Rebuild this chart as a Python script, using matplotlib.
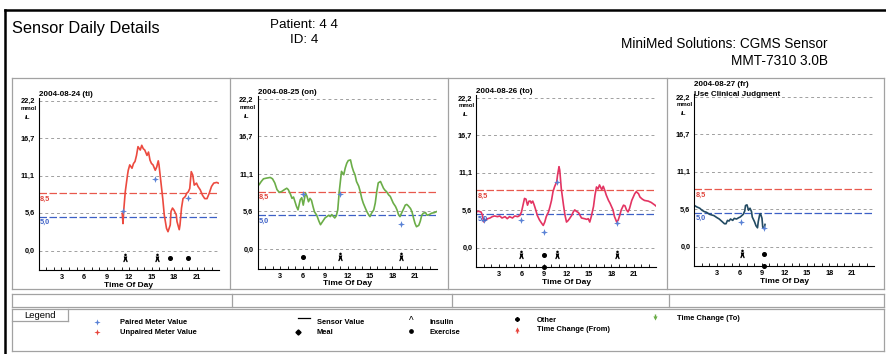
import matplotlib
matplotlib.use("Agg")
import matplotlib.pyplot as plt
from matplotlib.path import Path
from matplotlib.lines import Line2D
import numpy as np

plt.rcParams['font.family'] = ['Liberation Sans', 'DejaVu Sans']

# ---------------- data ----------------
day_titles = ["2004-08-24 (ti)", "2004-08-25 (on)", "2004-08-26 (to)", "2004-08-27 (fr)"]
ytick_values = [0.0, 5.6, 11.1, 16.7, 22.2]
ytick_labels = ["0,0", "5,6", "11,1", "16,7", "22,2"]
xtick_values = [3, 6, 9, 12, 15, 18, 21]
high_limit = 8.5
low_limit = 5.0

d1_hours = [11.1, 11.2, 11.3, 11.5, 11.8, 11.9, 12.1, 12.4, 12.6, 12.8, 13.0, 13.2, 13.5, 13.7, 13.9, 14.1,
            14.4, 14.6, 14.8, 15.0, 15.2, 15.5, 15.7, 15.9, 16.0, 16.2, 16.5, 16.7, 17.0, 17.2, 17.5, 17.6,
            17.8, 18.0, 18.3, 18.4, 18.7, 18.8, 19.0, 19.2, 19.5, 19.7, 19.9, 20.1, 20.3, 20.5, 20.7, 21.0,
            21.2, 21.5, 21.8, 22.1, 22.4, 22.7, 23.0, 23.3, 23.7, 23.9]
d1_glucose = [5.5, 4.0, 6.0, 8.7, 11.2, 11.9, 12.7, 12.2, 12.9, 13.2, 14.1, 15.4, 14.9, 15.6, 15.1, 14.9,
              14.1, 14.6, 13.4, 12.9, 12.7, 11.9, 12.4, 13.3, 12.7, 10.7, 7.7, 5.3, 3.3, 2.8, 3.8, 5.8,
              6.3, 6.0, 5.3, 4.3, 3.1, 3.8, 6.3, 7.7, 8.0, 8.5, 8.7, 9.2, 11.7, 11.2, 9.7, 10.0,
              9.5, 9.0, 8.2, 7.7, 7.7, 8.5, 9.5, 10.0, 10.1, 10.0]
d1_meter_hours = [11.2, 15.5, 19.8]
d1_meter_values = [5.9, 10.6, 7.8]

d2_hours = [0.0, 0.2, 0.5, 0.8, 1.2, 1.7, 2.0, 2.3, 2.6, 2.9, 3.2, 3.6, 3.9, 4.1, 4.4, 4.6, 4.8, 5.0, 5.2,
            5.4, 5.6, 5.7, 5.9, 6.1, 6.4, 6.6, 6.8, 7.0, 7.2, 7.4, 7.6, 7.9, 8.2, 8.4, 8.7, 9.0, 9.5,
            9.7, 9.9, 10.3, 10.5, 10.7, 10.9, 11.1, 11.2, 11.5, 11.7, 11.9, 12.1, 12.4, 12.6, 12.8, 13.0,
            13.2, 13.5, 13.7, 13.9, 14.1, 14.4, 14.6, 14.8, 15.0, 15.2, 15.5, 15.7, 15.9, 16.1, 16.4, 16.6,
            16.8, 17.0, 17.2, 17.5, 17.7, 17.9, 18.1, 18.4, 18.6, 18.8, 19.0, 19.2, 19.5, 19.7, 19.9, 20.1,
            20.4, 20.6, 20.8, 21.0, 21.2, 21.5, 21.7, 21.9, 22.1, 22.4, 22.6, 22.9, 23.2, 23.6, 24.0]
d2_glucose = [10.1, 9.5, 10.0, 10.4, 10.5, 10.6, 10.4, 9.8, 8.8, 8.4, 8.5, 8.8, 9.0, 8.8, 8.1, 7.5, 7.7, 7.0, 6.3,
              5.8, 6.8, 7.3, 7.6, 6.5, 8.3, 7.8, 7.0, 7.5, 7.2, 6.3, 5.5, 5.0, 4.1, 3.6, 4.1, 4.6, 5.0,
              4.8, 5.1, 4.6, 4.9, 5.8, 8.5, 10.5, 11.5, 11.0, 12.0, 12.7, 13.1, 13.2, 12.2, 11.5, 11.0,
              10.0, 9.3, 8.5, 7.5, 6.8, 6.0, 5.5, 5.1, 4.8, 5.3, 5.8, 6.8, 8.5, 9.8, 10.0, 9.5,
              9.0, 8.7, 8.5, 8.0, 7.8, 7.3, 6.8, 6.3, 5.8, 5.1, 4.8, 5.3, 6.0, 6.5, 6.6, 6.4,
              6.0, 5.5, 4.6, 3.8, 3.3, 3.5, 4.1, 5.0, 5.3, 5.4, 5.0, 5.1, 5.3, 5.4, 5.6]
d2_meter_hours = [6.0, 11.0, 19.2]
d2_meter_values = [8.1, 8.1, 3.7]

d3_hours = [0.0, 0.2, 0.6, 0.8, 0.9, 1.0, 1.2, 1.5, 1.8, 2.1, 2.4, 2.8, 3.1, 3.4, 3.8, 4.1, 4.4, 4.8, 5.1,
            5.5, 5.8, 6.0, 6.2, 6.4, 6.6, 6.8, 7.0, 7.2, 7.3, 7.5, 7.7, 7.9, 8.1, 8.4, 8.7, 8.9, 9.1,
            9.3, 9.6, 9.8, 10.0, 10.2, 10.4, 10.7, 10.8, 11.0, 11.1, 11.3, 11.6, 11.8, 12.0, 12.2, 12.4,
            12.7, 12.9, 13.1, 13.3, 13.6, 13.8, 14.0, 14.4, 14.7, 14.9, 15.1, 15.3, 15.6, 15.8, 16.0, 16.2,
            16.4, 16.7, 16.9, 17.1, 17.3, 17.6, 17.8, 18.0, 18.2, 18.4, 18.7, 18.9, 19.1, 19.3, 19.6, 19.8,
            20.0, 20.2, 20.4, 20.7, 20.9, 21.1, 21.3, 21.6, 21.8, 22.1, 22.4, 22.9, 23.3, 23.8, 23.9]
d3_glucose = [5.3, 5.4, 5.3, 4.8, 4.1, 3.8, 4.1, 4.3, 4.4, 4.6, 4.7, 4.6, 4.7, 4.4, 4.6, 4.3, 4.6, 4.4, 4.7,
              4.6, 4.8, 5.3, 6.3, 7.3, 7.2, 6.3, 6.9, 6.9, 6.6, 6.9, 6.3, 5.6, 4.8, 4.1, 3.6, 3.3, 3.8,
              4.6, 5.3, 6.1, 7.0, 8.3, 9.0, 9.8, 10.7, 12.0, 11.5, 8.8, 6.3, 4.8, 3.8, 4.0, 4.3,
              4.8, 5.3, 5.6, 5.4, 5.2, 4.8, 4.4, 4.3, 4.2, 4.3, 3.8, 4.6, 6.1, 7.8, 9.0, 8.7,
              9.3, 8.6, 9.1, 8.5, 7.8, 7.0, 6.6, 6.1, 5.6, 4.6, 3.8, 4.1, 4.8, 5.6, 6.3, 6.2,
              5.6, 5.3, 5.8, 7.0, 7.5, 8.0, 8.3, 8.0, 7.5, 7.2, 7.0, 6.9, 6.7, 6.3, 6.2]
d3_meter_hours = [1.0, 5.9, 9.0, 10.7, 18.8]
d3_meter_values = [4.1, 4.1, 2.4, 9.7, 3.7]

d4_hours = [0.0, 0.3, 0.7, 1.0, 1.3, 1.6, 2.0, 2.3, 2.6, 3.0, 3.3, 3.6, 4.0, 4.2, 4.4, 4.6, 4.8, 5.1, 5.3,
            5.6, 5.9, 6.1, 6.3, 6.5, 6.7, 6.8, 7.0, 7.1, 7.2, 7.4, 7.6, 7.7, 8.0, 8.2, 8.4, 8.5, 8.7,
            8.8, 9.0, 9.1, 9.3, 9.4]
d4_glucose = [6.1, 5.9, 5.7, 5.4, 5.2, 5.1, 4.8, 4.7, 4.6, 4.3, 4.1, 3.8, 3.4, 3.4, 3.9, 3.8, 4.1, 3.9, 4.2,
              4.1, 4.3, 4.4, 4.6, 4.8, 5.3, 6.1, 6.2, 5.8, 5.4, 5.7, 5.2, 4.4, 3.7, 3.1, 2.8, 3.7, 4.8,
              4.9, 4.2, 2.9, 2.7, 3.3]
d4_meter_hours = [6.2, 9.3]
d4_meter_values = [3.7, 2.7]

# events: hour and kind ('person' exercise icon, 'meal' dot, 'meal_low' dot on the axis)
d1_event_hours = [11.5, 15.7, 17.4, 19.9]
d1_event_kinds = ["person", "person", "meal", "meal"]
d2_event_hours = [6.0, 11.0, 19.2]
d2_event_kinds = ["meal", "person", "person"]
d3_event_hours = [6.0, 9.0, 10.8, 18.8, 9.0]
d3_event_kinds = ["person", "meal", "person", "person", "meal_low"]
d4_event_hours = [6.3, 9.3, 9.3]
d4_event_kinds = ["person", "meal", "meal_low"]

# ---------------- styles ----------------
line_colors = ["#ec4a3f", "#6bad48", "#e33462", "#234b63"]
all_hours = [d1_hours, d2_hours, d3_hours, d4_hours]
all_glucose = [d1_glucose, d2_glucose, d3_glucose, d4_glucose]
all_mh = [d1_meter_hours, d2_meter_hours, d3_meter_hours, d4_meter_hours]
all_mv = [d1_meter_values, d2_meter_values, d3_meter_values, d4_meter_values]
all_eh = [d1_event_hours, d2_event_hours, d3_event_hours, d4_event_hours]
all_ek = [d1_event_kinds, d2_event_kinds, d3_event_kinds, d4_event_kinds]

W, H = 887, 354
fig = plt.figure(figsize=(W / 100, H / 100), dpi=100)
fig.patch.set_facecolor("white")


def fx(px):
    return px / W


def fy(py):
    return 1 - py / H


def hline(x0, x1, y, color="#a2a2a2", lw=0.9):
    fig.add_artist(Line2D([fx(x0), fx(x1)], [fy(y), fy(y)], color=color, lw=lw))


def vline(x, y0, y1, color="#a2a2a2", lw=0.9):
    fig.add_artist(Line2D([fx(x), fx(x)], [fy(y0), fy(y1)], color=color, lw=lw))


# markers
person = Path.make_compound_path(
    Path.circle((0, 0.62), 0.22),
    Path([(-0.3, 0.36), (0.3, 0.36), (0.22, -0.05), (0.4, -0.62), (0.18, -0.62), (0.0, -0.22),
          (-0.18, -0.62), (-0.4, -0.62), (-0.22, -0.05), (-0.3, 0.36)], closed=True))
star = Path([(0, 1), (0.25, 0.25), (1, 0), (0.25, -0.25), (0, -1), (-0.25, -0.25), (-1, 0), (-0.25, 0.25), (0, 1)],
            closed=True)

# header text
fig.text(fx(12), fy(28), "Sensor Daily Details", fontsize=11.8, ha="left", va="center")
fig.text(fx(270), fy(25), "Patient: 4 4", fontsize=9.6, ha="left", va="center")
fig.text(fx(290), fy(40), "ID: 4", fontsize=9.6, ha="left", va="center")
fig.text(fx(828), fy(44), "MiniMed Solutions: CGMS Sensor", fontsize=9.8, ha="right", va="center")
fig.text(fx(828), fy(61), "MMT-7310 3.0B", fontsize=9.8, ha="right", va="center")

# page lines
hline(5.5, 887, 10, color="black", lw=1.8)
vline(5.5, 10, 354, color="black", lw=1.8)

# panel frames
panel_edges = [12, 230, 448, 667, 884]
hline(12, 884, 78)
hline(12, 884, 289)
for x in panel_edges:
    vline(x, 78, 289)
# empty row below
hline(12, 884, 294)
hline(12, 884, 307)
for x in [12, 232, 452, 669, 884]:
    vline(x, 294, 307)
# legend box
hline(12, 884, 309)
hline(12, 884, 351)
vline(12, 309, 351)
vline(884, 309, 351)
hline(12, 68, 321)
vline(68, 309, 321)
fig.text(fx(40), fy(315.5), "Legend", fontsize=6.8, ha="center", va="center")

# panels
lefts = [39, 257.5, 476.5, 694.5]
zeros = [250.6, 249.0, 247.7, 246.7]
scale = 6.75
ylo, yhi = -2.9, 22.6
for i in range(4):
    bottom_px = zeros[i] - ylo * scale
    top_px = zeros[i] - yhi * scale
    ax = fig.add_axes([fx(lefts[i]), fy(bottom_px), 180 / W, (bottom_px - top_px) / H])
    ax.set_xlim(0, 24)
    ax.set_ylim(ylo, yhi)
    ax.patch.set_alpha(0)
    for s in ["top", "right"]:
        ax.spines[s].set_visible(False)
    for s in ["left", "bottom"]:
        ax.spines[s].set_linewidth(0.8)
    ax.set_yticks(ytick_values)
    ax.set_yticklabels(ytick_labels, fontsize=5.3, fontweight="bold")
    ax.tick_params(axis="y", length=0, pad=3)
    ax.set_xticks(xtick_values)
    ax.set_xticklabels([str(v) for v in xtick_values], fontsize=5.3, fontweight="bold")
    ax.set_xticks(range(1, 24), minor=True)
    ax.tick_params(axis="x", which="both", direction="in", length=2.2, width=0.6, pad=3)
    ax.set_xlabel("Time Of Day", fontsize=6, fontweight="bold", labelpad=0.5)
    for v in ytick_values:
        ax.axhline(v, color="#a0a0a0", lw=0.7, ls=(0, (3, 3)))
    ax.axhline(high_limit, color="#e8584d", lw=0.9, ls=(0, (6, 2)))
    ax.axhline(low_limit, color="#3d60c6", lw=0.9, ls=(0, (6, 2)))
    ax.text(0.15, high_limit - 0.35, "8,5", color="#e0453c", fontsize=5.3, fontweight="bold", va="top")
    ax.text(0.15, low_limit - 0.35, "5,0", color="#3d60c6", fontsize=5.3, fontweight="bold", va="top")
    ax.annotate("mmol", xy=(0, 22.2), xycoords=("axes fraction", "data"), xytext=(-1.5, -4),
                textcoords="offset points", ha="right", va="top", fontsize=4.4, fontweight="bold")
    ax.annotate("/L", xy=(0, 22.2), xycoords=("axes fraction", "data"), xytext=(-6, -10.5),
                textcoords="offset points", ha="right", va="top", fontsize=4.4, fontweight="bold")
    ax.plot(all_hours[i], all_glucose[i], color=line_colors[i], lw=1.2)
    ax.plot(all_mh[i], all_mv[i], ls="none", marker=star, ms=5, color="#5a82d6", mew=0)
    for h, k in zip(all_eh[i], all_ek[i]):
        if k == "person":
            ax.plot([h], [-1.15], marker=person, ms=7, color="black", ls="none", mew=0)
        elif k == "meal":
            ax.plot([h], [-1.15], marker="o", ms=2.6, color="black", ls="none")
        else:
            ax.plot([h], [ylo], marker="o", ms=2.6, color="black", ls="none", clip_on=False)
    if i < 3:
        ax.text(0, 1.0, day_titles[i], transform=ax.transAxes, fontsize=5.8, fontweight="bold",
                ha="left", va="bottom")
    else:
        fig.text(fx(lefts[i]), fy(85), day_titles[i], fontsize=5.8, fontweight="bold", ha="left", va="center")
        fig.text(fx(lefts[i]), fy(94), "Use Clinical Judgment", fontsize=5.8, fontweight="bold",
                 ha="left", va="center")

# legend entries
lf = dict(fontsize=5.4, fontweight="bold", ha="left", va="center")
fig.add_artist(Line2D([fx(97)], [fy(322)], marker=star, ms=4.5, color="#5a82d6", mew=0))
fig.text(fx(120), fy(322), "Paired Meter Value", **lf)
fig.add_artist(Line2D([fx(97)], [fy(332)], marker=star, ms=4.5, color="#e8453c", mew=0))
fig.text(fx(120), fy(332), "Unpaired Meter Value", **lf)
fig.add_artist(Line2D([fx(298), fx(310)], [fy(317.5), fy(317.5)], color="black", lw=0.9))
fig.text(fx(317), fy(322), "Sensor Value", **lf)
fig.add_artist(Line2D([fx(298)], [fy(332)], marker="D", ms=2.6, color="black"))
fig.text(fx(317), fy(332), "Meal", **lf)
fig.text(fx(411.5), fy(321), "^", fontsize=7, ha="center", va="center")
fig.text(fx(430), fy(322), "Insulin", **lf)
fig.add_artist(Line2D([fx(411.5)], [fy(331)], marker="o", ms=2.4, color="black"))
fig.text(fx(430), fy(332), "Exercise", **lf)
fig.add_artist(Line2D([fx(517)], [fy(319)], marker=(6, 2, 0), ms=3, color="black", mew=1.2))
fig.text(fx(537), fy(320), "Other", **lf)
fig.add_artist(Line2D([fx(517)], [fy(329)], marker="^", ms=3, color="#e8453c", mew=0))
fig.add_artist(Line2D([fx(517)], [fy(331)], marker="|", ms=3, color="#e8453c", mew=1))
fig.text(fx(537), fy(329.5), "Time Change (From)", **lf)
fig.add_artist(Line2D([fx(655)], [fy(318)], marker="v", ms=3, color="#6bad48", mew=0))
fig.add_artist(Line2D([fx(655)], [fy(316)], marker="|", ms=3, color="#6bad48", mew=1))
fig.text(fx(677), fy(319), "Time Change (To)", **lf)

fig.savefig("out.png", dpi=100)
